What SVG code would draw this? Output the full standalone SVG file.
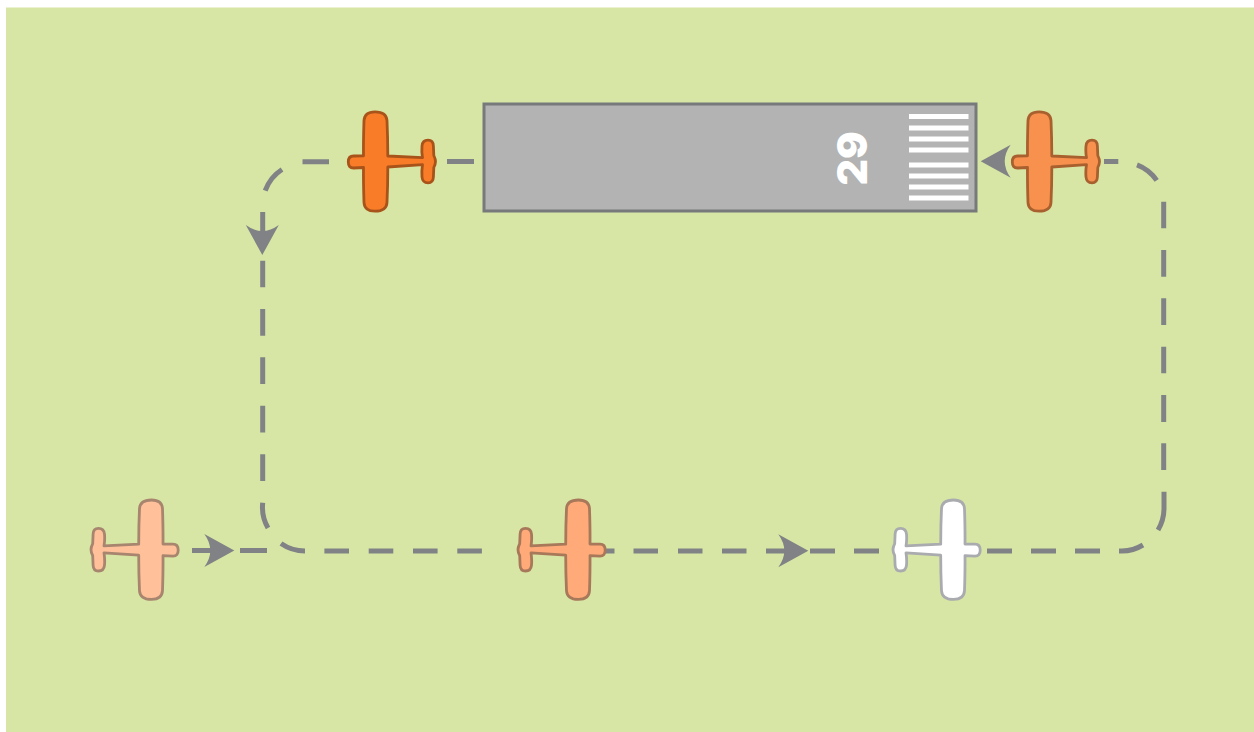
<svg xmlns="http://www.w3.org/2000/svg" width="1254" height="732" viewBox="0 0 1254 732">
  <style>
    .dash { fill: none; stroke: #808285; stroke-width: 5; }
    .head { fill: #808285; stroke: none; }
    .plane { stroke-width: 2.800; stroke-linejoin: round; }
    .stripe { fill: #ffffff; }
  </style>
  <defs>
    <path id="arrow" d="M0 0 L-30 -16.5 Q-18 0 -30 16.5 Z"/>
    <path id="planeShape" d="M6.500 -5.500 L16.500 -5.700 C16.300 -20 16.700 -32 17 -41 Q17.500 -49.700 28 -49.700 Q39.500 -49.700 40 -41 C40.500 -30 40.800 -18 40.800 -5.500 L75.500 -3.800 C74.700 -8 74.700 -12 75 -15.500 Q75.500 -21.300 81 -21.300 Q86.200 -21.300 86.400 -15.500 L86.800 -6 Q88.500 -2.500 88.500 0 Q88.500 2.500 86.800 6 L86.400 15.500 Q86.200 21.300 81 21.300 Q75.500 21.300 75 15.500 C74.700 12 74.700 8 75.500 3.200 L40.800 5.500 C40.800 18 40.500 30 40 41 Q39.500 49.700 28 49.700 Q17.500 49.700 17 41 C16.700 32 16.300 20 16.500 6 L6.500 6.500 Q1.300 6.500 1.300 0.500 Q1.300 -5.500 6.500 -5.500 Z"/>
  </defs>
  <rect id="ground" x="6" y="7.500" width="1248" height="724.500" fill="#D7E6A5"/>
  <g id="connectors">
    <path class="dash" d="M447 161.600H474M302.500 161.800H329M282 169.500A42 42 0 0 0 265.200 190.700M262.700 212V238M262.700 260.700V287.300M262.700 309V335.700M262.700 357.300V384M262.700 405.700V432.400M262.700 454.300V481M262.700 502.700A42 42 0 0 0 268 528M281 543.500A42 42 0 0 0 305 551M324.400 551H349M368.700 551H393.300M413 551H437.600M457.300 551H481.900M600 551H614.500M633.500 551H658M678 551H702.500M722 551H746.500M766 551H790M810 551H835M854 551H879M987 551H1012M1031 551H1056M1075 551H1100M1119 551H1122A42 42 0 0 0 1143 545M1158 530A42 42 0 0 0 1164 509V491.700M1163.700 470V443.300M1163.700 422V395M1163.700 373.300V346.700M1163.700 325V298.300M1163.700 276.700V250M1163.700 228.300V201.700M1156.700 180.300A42 42 0 0 0 1137 164.800M1118.300 161.600H1104M192 550.600H215M240 550.600H267"/>
    <use href="#arrow" class="head" transform="translate(234.300 550.600)"/>
    <use href="#arrow" class="head" transform="translate(808.300 550.800)"/>
    <use href="#arrow" class="head" transform="translate(262.300 255) rotate(90)"/>
    <use href="#arrow" class="head" transform="translate(980.700 161.300) rotate(180)"/>
  </g>
  <g id="runway">
    <rect x="484" y="104" width="492" height="107" fill="#B2B3B2" stroke="#77797B" stroke-width="3"/>
    <rect class="stripe" x="909" y="114" width="59.500" height="5"/>
    <rect class="stripe" x="909" y="125.500" width="59.500" height="5"/>
    <rect class="stripe" x="909" y="136.500" width="59.500" height="5"/>
    <rect class="stripe" x="909" y="147.500" width="59.500" height="5"/>
    <rect class="stripe" x="909" y="162.500" width="59.500" height="5"/>
    <rect class="stripe" x="909" y="173.500" width="59.500" height="5"/>
    <rect class="stripe" x="909" y="184.500" width="59.500" height="5"/>
    <rect class="stripe" x="909" y="195.500" width="59.500" height="5"/>
    <text transform="translate(867 158.500) rotate(-90)" text-anchor="middle" font-family="Inter, 'Open Sans', 'Liberation Sans', sans-serif" font-weight="900" font-size="41" fill="#ffffff">29</text>
  </g>
  <g id="plane-takeoff"><use href="#planeShape" class="plane" transform="translate(347 161.500)" fill="#F97C28" stroke="#A85319"/></g>
  <g id="plane-final"><use href="#planeShape" class="plane" transform="translate(1011 161.500)" fill="#F9914E" stroke="#A8602F"/></g>
  <g id="plane-entry"><use href="#planeShape" class="plane" transform="translate(179.500 549.700) scale(-1 1)" fill="#FFC09A" stroke="#A8856E"/></g>
  <g id="plane-downwind"><use href="#planeShape" class="plane" transform="translate(606.500 549.700) scale(-1 1)" fill="#FFAA78" stroke="#A8785A"/></g>
  <g id="plane-base"><use href="#planeShape" class="plane" transform="translate(981.500 549.700) scale(-1 1)" fill="#FFFFFF" stroke="#A9ABAE"/></g>
</svg>
